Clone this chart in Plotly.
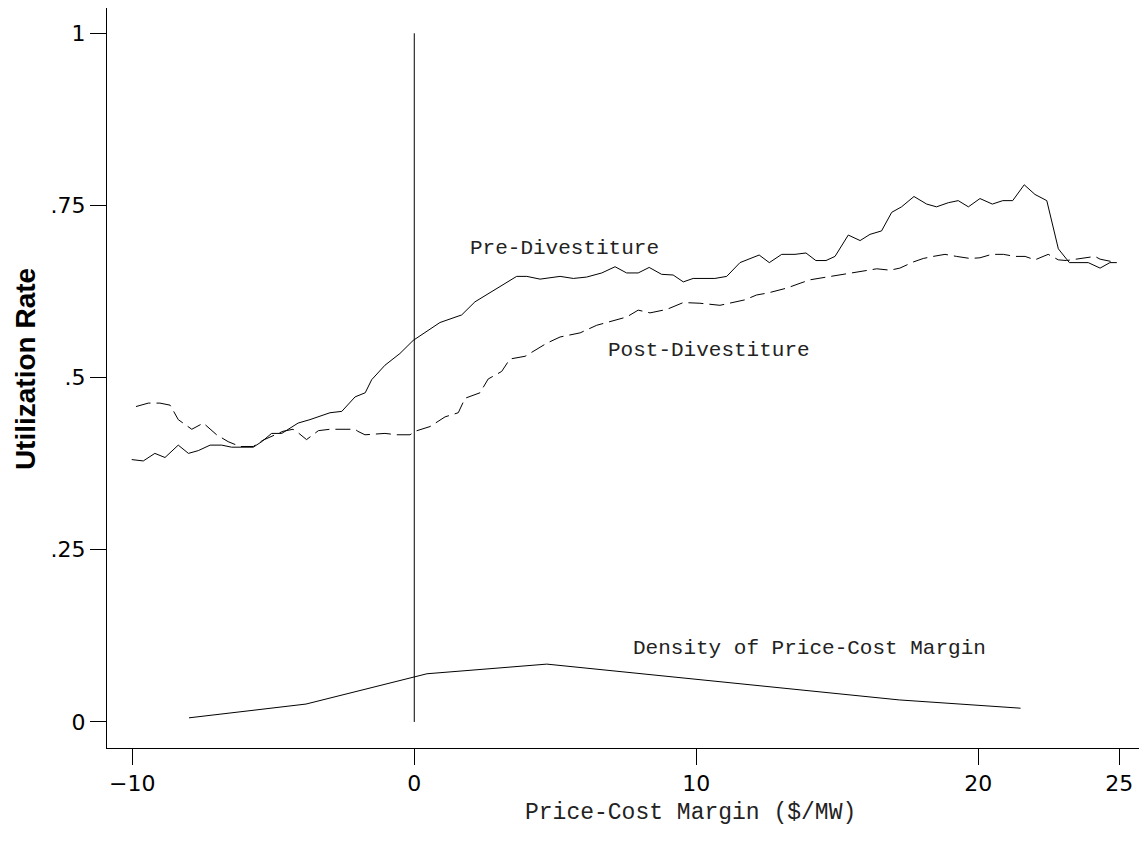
import plotly.graph_objects as go

# Pre-divestiture utilization rate
pre_x = [-10.02, -9.61, -9.20, -8.84, -8.37, -8.01, -7.66, -7.24, -6.83, -6.48, -5.71, -5.41, -5.06,
         -4.70, -4.12, -3.70, -2.99, -2.57, -2.10, -1.74, -1.51, -1.04, -0.51, -0.04, 0.91, 1.68,
         2.15, 3.04, 3.63, 3.99, 4.46, 5.17, 5.64, 6.11, 6.65, 7.12, 7.53, 7.94, 8.33, 8.77, 9.18,
         9.54, 9.89, 10.66, 11.08, 11.55, 12.23, 12.59, 13.03, 13.50, 13.89, 14.24, 14.60, 14.92,
         15.39, 15.81, 16.16, 16.57, 16.93, 17.28, 17.72, 18.17, 18.52, 18.94, 19.29, 19.65, 20.06,
         20.50, 20.87, 21.22, 21.63, 22.01, 22.43, 22.84, 23.23, 23.90, 24.32, 24.67, 24.91]
pre_y = [0.381, 0.379, 0.390, 0.384, 0.402, 0.390, 0.394, 0.402, 0.402, 0.399, 0.399, 0.407, 0.419,
         0.419, 0.434, 0.439, 0.449, 0.451, 0.472, 0.478, 0.497, 0.518, 0.535, 0.554, 0.580, 0.591,
         0.610, 0.632, 0.647, 0.647, 0.643, 0.647, 0.644, 0.646, 0.652, 0.661, 0.652, 0.652, 0.660,
         0.650, 0.649, 0.639, 0.644, 0.644, 0.647, 0.667, 0.678, 0.667, 0.679, 0.679, 0.681, 0.670,
         0.670, 0.676, 0.707, 0.699, 0.708, 0.713, 0.740, 0.748, 0.763, 0.752, 0.748, 0.754, 0.757,
         0.748, 0.760, 0.752, 0.757, 0.757, 0.780, 0.766, 0.757, 0.687, 0.667, 0.667, 0.659, 0.667,
         0.667]

# Post-divestiture utilization rate
post_x = [-9.87, -9.43, -9.02, -8.66, -8.56, -8.37, -7.89, -7.72, -7.48, -7.01, -6.60, -6.18, -5.71,
          -5.37, -4.66, -4.30, -4.12, -3.82, -3.40, -2.99, -2.10, -2.00, -1.75, -1.04, -0.62, -0.15,
          0.02, 0.56, 1.09, 1.56, 1.80, 2.33, 2.62, 3.10, 3.39, 3.93, 4.70, 5.17, 5.88, 6.47, 7.06,
          7.53, 7.94, 8.36, 8.95, 9.54, 10.13, 10.84, 11.73, 12.14, 12.55, 13.21, 13.68, 14.03, 14.62,
          15.21, 15.81, 16.40, 16.87, 17.22, 17.70, 18.05, 18.40, 18.82, 19.23, 19.71, 20.06, 20.48,
          20.89, 21.30, 21.66, 22.01, 22.48, 22.84, 23.13, 23.60, 24.14, 24.32, 24.91]
post_y = [0.458, 0.463, 0.463, 0.460, 0.453, 0.439, 0.425, 0.429, 0.434, 0.417, 0.407, 0.400, 0.400,
          0.409, 0.422, 0.425, 0.420, 0.410, 0.423, 0.425, 0.425, 0.422, 0.417, 0.419, 0.417, 0.417,
          0.422, 0.429, 0.443, 0.449, 0.470, 0.478, 0.498, 0.509, 0.527, 0.531, 0.550, 0.559, 0.565,
          0.576, 0.583, 0.588, 0.598, 0.594, 0.599, 0.609, 0.608, 0.605, 0.613, 0.620, 0.623, 0.630,
          0.637, 0.642, 0.646, 0.650, 0.654, 0.658, 0.656, 0.659, 0.668, 0.673, 0.676, 0.679, 0.676,
          0.673, 0.674, 0.679, 0.679, 0.676, 0.676, 0.671, 0.679, 0.671, 0.670, 0.673, 0.676, 0.672,
          0.667]

# Density of price-cost margin
dens_x = [-7.99, -3.84, 0.45, 4.70, 17.20, 21.50]
dens_y = [0.006, 0.026, 0.070, 0.084, 0.032, 0.020]

x_ticks = [-10, 0, 10, 20, 25]
x_tick_labels = ["\u221210", "0", "10", "20", "25"]
y_ticks = [0, 0.25, 0.5, 0.75, 1]
y_tick_labels = ["0", ".25", ".5", ".75", "1"]

mono = "Courier New, Liberation Mono, monospace"

fig = go.Figure()
fig.add_trace(go.Scatter(x=[0, 0], y=[0, 1], mode="lines",
                         line=dict(color="black", width=1), showlegend=False, hoverinfo="skip"))
fig.add_trace(go.Scatter(x=pre_x, y=pre_y, mode="lines",
                         line=dict(color="black", width=1), showlegend=False))
fig.add_trace(go.Scatter(x=post_x, y=post_y, mode="lines",
                         line=dict(color="black", width=1, dash="15px,6px"), showlegend=False))
fig.add_trace(go.Scatter(x=dens_x, y=dens_y, mode="lines",
                         line=dict(color="black", width=1), showlegend=False))

annots = [
    dict(x=5.34, y=0.687, text="Pre-Divestiture"),
    dict(x=10.46, y=0.540, text="Post-Divestiture"),
    dict(x=14.03, y=0.107, text="Density of Price-Cost Margin"),
]
for a in annots:
    fig.add_annotation(x=a["x"], y=a["y"], xref="x", yref="y", text=a["text"], showarrow=False,
                       xanchor="center", yanchor="middle",
                       font=dict(family=mono, size=21, color="#222222"))

# Axis titles
fig.add_annotation(x=-82 / 1032, y=0.512, xref="paper", yref="paper", text="<b>Utilization Rate</b>",
                   textangle=-90, showarrow=False, xanchor="center", yanchor="middle",
                   font=dict(family="Liberation Sans, Arial, sans-serif", size=28, color="black"))
fig.add_annotation(x=(690 - 107) / 1032, y=(748 - 813) / 740, xref="paper", yref="paper",
                   text="Price-Cost Margin ($/MW)", showarrow=False, xanchor="center", yanchor="middle",
                   font=dict(family=mono, size=23, color="#222222"))

fig.update_layout(
    width=1139, height=842,
    margin=dict(l=107, r=0, t=8, b=94, autoexpand=False),
    plot_bgcolor="white", paper_bgcolor="white",
    showlegend=False,
    xaxis=dict(range=[-10.897, 25.70], tickvals=x_ticks, ticktext=x_tick_labels, automargin=False,
               showgrid=False, zeroline=False, showline=True, linecolor="black", linewidth=1,
               ticks="outside", ticklen=16, tickwidth=1, tickcolor="black",
               tickfont=dict(family="DejaVu Sans, sans-serif", size=22, color="black")),
    yaxis=dict(range=[-0.0378, 1.0367], tickvals=y_ticks, ticktext=y_tick_labels, automargin=False,
               showgrid=False, zeroline=False, showline=True, linecolor="black", linewidth=1,
               ticks="outside", ticklen=16, tickwidth=1, tickcolor="black",
               tickfont=dict(family="DejaVu Sans, sans-serif", size=22, color="black")),
)

fig.write_html("out.html", config={"displayModeBar": False},
               post_script="document.body.style.margin='0';document.body.style.padding='0';")
